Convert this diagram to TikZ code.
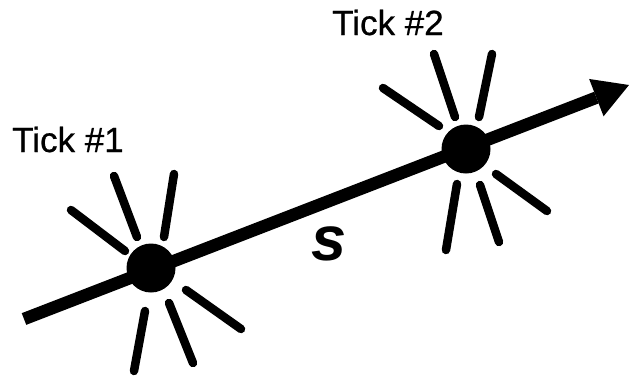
\documentclass[tikz,border=0pt]{standalone}
\usepackage{fontspec}
\setmainfont{Liberation Sans}
\newfontfamily\labelfont[FakeBold=0.7]{Liberation Sans}
\usetikzlibrary{arrows.meta}
\begin{document}
\begin{tikzpicture}[x=1pt,y=-1pt,
  mainline/.style={line width=12.5pt,line cap=butt,-{Triangle[length=35pt,width=40pt,line width=0pt]}},
  spike/.style={line width=8.5pt,line cap=round},
  tickdot/.style={circle,fill=black,inner sep=0pt,minimum size=49pt},
  ticklabel/.style={anchor=base west,inner sep=0pt,font=\labelfont\fontsize{35}{40}\selectfont}]
\useasboundingbox (0,0) rectangle (629,383);
\coordinate (start) at (24,319);
\coordinate (tip) at (629,85);
\draw[mainline] (start) -- (tip);
\node[tickdot] (t1) at (151,268) {};
\node[tickdot] (t2) at (466,149) {};
% spikes of tick 1
\draw[spike] (t1) ++(-80,-58) -- ++(54,41);
\draw[spike] (t1) ++(-37,-92) -- ++(23,61);
\draw[spike] (t1) ++(23,-94) -- ++(-10,63);
\draw[spike] (t1) ++(35,22) -- ++(55,39);
\draw[spike] (t1) ++(18,35) -- ++(24,60);
\draw[spike] (t1) ++(-6,43) -- ++(-11,60);
% spikes of tick 2
\draw[spike] (t2) ++(-83,-61) -- ++(56,38);
\draw[spike] (t2) ++(-32,-95) -- ++(21,63);
\draw[spike] (t2) ++(26,-95) -- ++(-13,63);
\draw[spike] (t2) ++(30,25) -- ++(51,37);
\draw[spike] (t2) ++(14,36) -- ++(19,57);
\draw[spike] (t2) ++(-9,35) -- ++(-11,66);
\node[ticklabel] (l1) at (12,152) {Tick \#1};
\node[ticklabel] (l2) at (332,35) {Tick \#2};
\node[inner sep=0pt,font=\fontsize{63}{65}\selectfont\bfseries\itshape] (s) at (329,244) {s};
\end{tikzpicture}
\end{document}
